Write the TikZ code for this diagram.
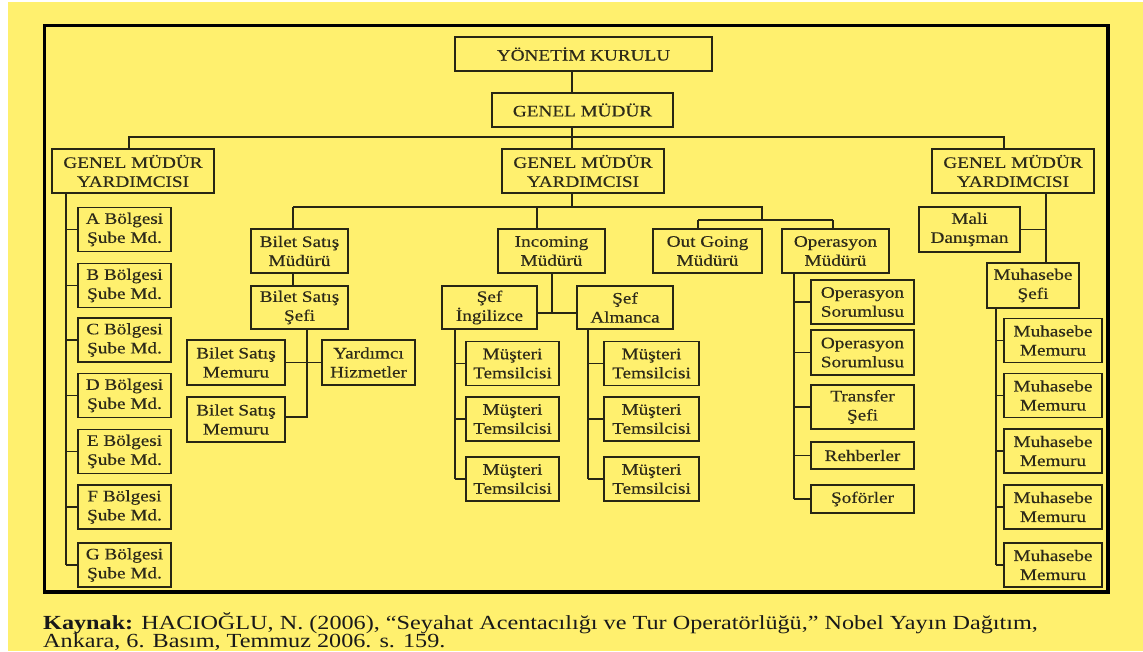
\documentclass[tikz,border=0pt]{standalone}
\usepackage{fontspec}
\setmainfont{Liberation Serif}
\newfontfamily\boxfont{Liberation Serif}[FakeStretch=1.2,FakeBold=0.35]
\newfontfamily\capfont{Liberation Serif}[FakeStretch=1.21]
\definecolor{paper}{RGB}{255,240,110}
\definecolor{ink}{RGB}{40,38,20}
\definecolor{txt}{RGB}{45,42,25}

\begin{document}
\begin{tikzpicture}[x=1pt,y=-1pt,
  box/.style={draw=ink, line width=1.5pt, inner sep=0pt, align=center, text=txt,
              font=\boxfont\fontsize{16}{19}\selectfont},
  wire/.style={draw=ink, line width=1.5pt},
  sz/.style 2 args={minimum width=#1, minimum height=#2},
  caption/.style={anchor=base west, inner sep=0pt, text=black!90,
              font=\capfont\fontsize{20}{20}\selectfont}]

% page and frame
\useasboundingbox (0,0) rectangle (1143,651);
\fill[white] (0,0) rectangle (1143,651);
\fill[paper] (8,2) rectangle (1143,651);
\draw[black, line width=3.2pt] (44.5,25.5) rectangle (1108,592);

% top levels
\node[box, sz={257}{34}] (yk) at (583.5,54) {YÖNETİM KURULU};
\node[box, sz={181}{34}] (gm) at (582.5,110) {GENEL MÜDÜR};
\node[box, sz={162}{44}] (gmyL) at (133,171) {GENEL MÜDÜR\\YARDIMCISI};
\node[box, sz={162}{44}] (gmyC) at (583,171) {GENEL MÜDÜR\\YARDIMCISI};
\node[box, sz={162}{44}] (gmyR) at (1013,171) {GENEL MÜDÜR\\YARDIMCISI};

\coordinate (tj) at (572,137);
\coordinate (jL) at (129,137);
\coordinate (jR) at (1004,137);
\draw[wire] (yk.south -| tj) -- (gm.north -| tj);
\draw[wire] (gm.south -| tj) -- (gmyC.north -| tj);
\draw[wire] (gmyL.north -| jL) -- (jL) -- (jR) -- (gmyR.north -| jR);

% regional branch managers
\foreach \n/\y in {A/229.5,B/285.5,C/340,D/395.5,E/451.5,F/507,G/565}
  \node[box, sz={93}{44}] (b\n) at (124.5,\y) {\n\ Bölgesi\\Şube Md.};
\coordinate (sL) at (66,0);
\draw[wire] (gmyL.south -| sL) -- (bG.west -| sL);
\foreach \n in {A,B,C,D,E,F,G}
  \draw[wire] (b\n.west -| sL) -- (b\n.west);

% central departments
\node[box, sz={97}{44}] (bsm) at (299.5,251) {Bilet Satış\\Müdürü};
\node[box, sz={97}{43}] (bss) at (299.5,307.5) {Bilet Satış\\Şefi};
\node[box, sz={98}{45}] (bm1) at (236,362.5) {Bilet Satış\\Memuru};
\node[box, sz={98}{45}] (bm2) at (236,419.5) {Bilet Satış\\Memuru};
\node[box, sz={93}{45}] (yh) at (368.5,362.5) {Yardımcı\\Hizmetler};
\node[box, sz={107}{44}] (inc) at (551.5,251) {Incoming\\Müdürü};
\node[box, sz={95}{43}] (sI) at (489.5,307.5) {Şef\\İngilizce};
\node[box, sz={96}{43}] (sA) at (625,307.5) {Şef\\Almanca};
\node[box, sz={109}{44}] (og) at (707.5,251) {Out Going\\Müdürü};
\node[box, sz={107}{44}] (op) at (835.5,251) {Operasyon\\Müdürü};

\coordinate (cj) at (572,207);
\coordinate (c1) at (293,207);
\coordinate (c2) at (537,207);
\coordinate (c3) at (762,207);
\coordinate (c3b) at (762,220);
\coordinate (o1) at (698,220);
\coordinate (o2) at (833,220);
\draw[wire] (gmyC.south -| cj) -- (cj);
\draw[wire] (c1) -- (c3) -- (c3b);
\draw[wire] (c1) -- (bsm.north -| c1);
\draw[wire] (c2) -- (inc.north -| c2);
\draw[wire] (o1) -- (o2);
\draw[wire] (o1) -- (og.north -| o1);
\draw[wire] (o2) -- (op.north -| o2);

% ticket sales
\coordinate (bj) at (307,417);
\draw[wire] (bsm.south -| c1) -- (bss.north -| c1);
\draw[wire] (bss.south -| bj) -- (bj) -- (bm2.east |- bj);
\draw[wire] (bm1.east) -- (yh.west);

% incoming
\coordinate (ij) at (552,313);
\draw[wire] (inc.south -| ij) -- (ij);
\draw[wire] (sI.east |- ij) -- (sA.west |- ij);
\foreach \k/\y in {1/363.5,2/419,3/479} {
  \node[box, sz={93}{44}] (mI\k) at (512.5,\y) {Müşteri\\Temsilcisi};
  \node[box, sz={95}{44}] (mA\k) at (651.5,\y) {Müşteri\\Temsilcisi};
}
\coordinate (sIx) at (455,0);
\coordinate (sAx) at (588,0);
\draw[wire] (sI.south -| sIx) -- (mI3.west -| sIx);
\draw[wire] (sA.south -| sAx) -- (mA3.west -| sAx);
\foreach \k in {1,2,3} {
  \draw[wire] (mI\k.west -| sIx) -- (mI\k.west);
  \draw[wire] (mA\k.west -| sAx) -- (mA\k.west);
}

% operations
\node[box, sz={103}{44}] (os1) at (862.5,302) {Operasyon\\Sorumlusu};
\node[box, sz={103}{45}] (os2) at (862.5,352.5) {Operasyon\\Sorumlusu};
\node[box, sz={103}{44}] (tr) at (862.5,407) {Transfer\\Şefi};
\node[box, sz={103}{27}] (rh) at (862.5,455.5) {Rehberler};
\node[box, sz={103}{28}] (sf) at (862.5,499) {Şoförler};
\coordinate (opx) at (794,0);
\draw[wire] (op.south -| opx) -- (sf.west -| opx);
\foreach \n in {os1,os2,tr,rh,sf}
  \draw[wire] (\n.west -| opx) -- (\n.west);

% finance
\node[box, sz={101}{45}] (md) at (969.5,229.5) {Mali\\Danışman};
\node[box, sz={92}{45}] (ms) at (1033,285.5) {Muhasebe\\Şefi};
\foreach \k/\y in {1/340.5,2/395.5,3/451,4/507,5/565}
  \node[box, sz={98}{44}] (mm\k) at (1053,\y) {Muhasebe\\Memuru};
\coordinate (rx) at (1046,0);
\coordinate (mx) at (996,0);
\draw[wire] (gmyR.south -| rx) -- (ms.north -| rx);
\draw[wire] (md.east) -- (md.east -| rx);
\draw[wire] (ms.south -| mx) -- (mm5.west -| mx);
\foreach \k in {1,...,5}
  \draw[wire] (mm\k.west -| mx) -- (mm\k.west);

% source line
\node[caption] (cap1) at (43,629) {\textbf{Kaynak:} HACIOĞLU, N. (2006), “Seyahat Acentacılığı ve Tur Operatörlüğü,” Nobel Yayın Dağıtım,};
\node[caption] (cap2) at (43,647.5) {Ankara, 6. Basım, Temmuz 2006. s. 159.};
\end{tikzpicture}
\end{document}
